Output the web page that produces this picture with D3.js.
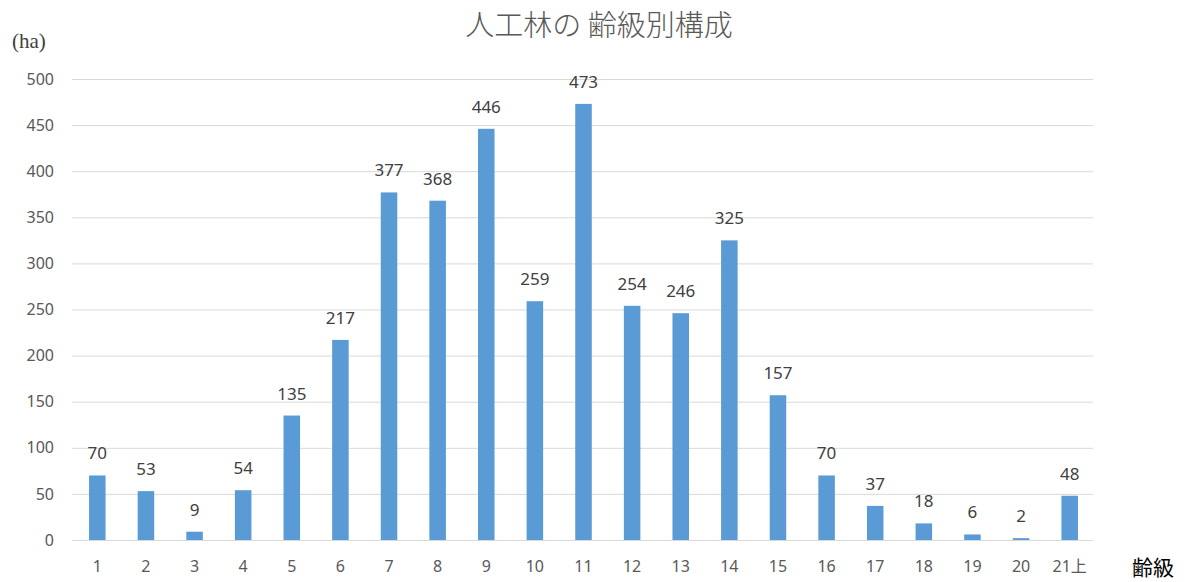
<!DOCTYPE html>
<html><head><meta charset="utf-8">
<script src="https://cdn.jsdelivr.net/npm/d3@7"></script>
<style>body{margin:0;background:#fff}svg{display:block}</style>
</head><body>
<svg id="c" width="1185" height="582"></svg>
<script>
const categories = ["1","2","3","4","5","6","7","8","9","10","11","12","13","14","15","16","17","18","19","20","21上"];
const values = [70,53,9,54,135,217,377,368,446,259,473,254,246,325,157,70,37,18,6,2,48];
const yTicks = [0,50,100,150,200,250,300,350,400,450,500];
const title = "人工林の 齢級別構成";

(function(){
const svg = d3.select("#c");
const mLeft = 73, mRight = 1094, mTop = 79, mBottom = 540;
const x = d3.scaleBand().domain(categories).range([mLeft, mRight]).paddingInner(0.66).paddingOuter(0.33);
const y = d3.scaleLinear().domain([0, 500]).range([mBottom, mTop]);
const font = "'Noto Sans', 'Noto Sans CJK JP', sans-serif";
const cjk = "'Noto Sans CJK JP', sans-serif";

svg.append("g").selectAll("line").data(yTicks).join("line")
  .attr("x1", 72).attr("x2", 1093)
  .attr("y1", d => y(d) + 0.5).attr("y2", d => y(d) + 0.5)
  .attr("stroke", "#d9d9d9").attr("stroke-width", 1);

svg.append("g").selectAll("text").data(yTicks).join("text")
  .attr("x", 54).attr("y", d => y(d)).attr("dy", "0.35em")
  .attr("text-anchor", "end").attr("fill", "#595959")
  .style("font", "16px " + font).text(d => d);

svg.append("g").selectAll("rect").data(values).join("rect")
  .attr("x", (d, i) => x(categories[i])).attr("width", x.bandwidth())
  .attr("y", d => y(d)).attr("height", d => mBottom - y(d))
  .attr("fill", "#5b9bd5");

svg.append("g").selectAll("text").data(values).join("text")
  .attr("x", (d, i) => x(categories[i]) + x.bandwidth() / 2)
  .attr("y", d => y(d) - 16)
  .attr("text-anchor", "middle").attr("fill", "#404040")
  .style("font", "17px " + font).text(d => d);

svg.append("g").selectAll("text").data(categories).join("text")
  .attr("x", d => x(d) + x.bandwidth() / 2).attr("y", 572)
  .attr("text-anchor", "middle").attr("fill", "#595959")
  .style("font", "16px " + font).text(d => d);

svg.append("text").attr("x", 599).attr("y", 36).attr("text-anchor", "middle")
  .attr("fill", "#595959").style("font", "300 29px " + cjk).text(title);

svg.append("text").attr("x", 12).attr("y", 48).attr("fill", "#404040")
  .style("font", "21px 'Liberation Serif', serif").text("(ha)");

svg.append("text").attr("x", 1132).attr("y", 575).attr("fill", "#000")
  .style("font", "21px " + cjk).text("齢級");
})();
</script>
</body></html>
